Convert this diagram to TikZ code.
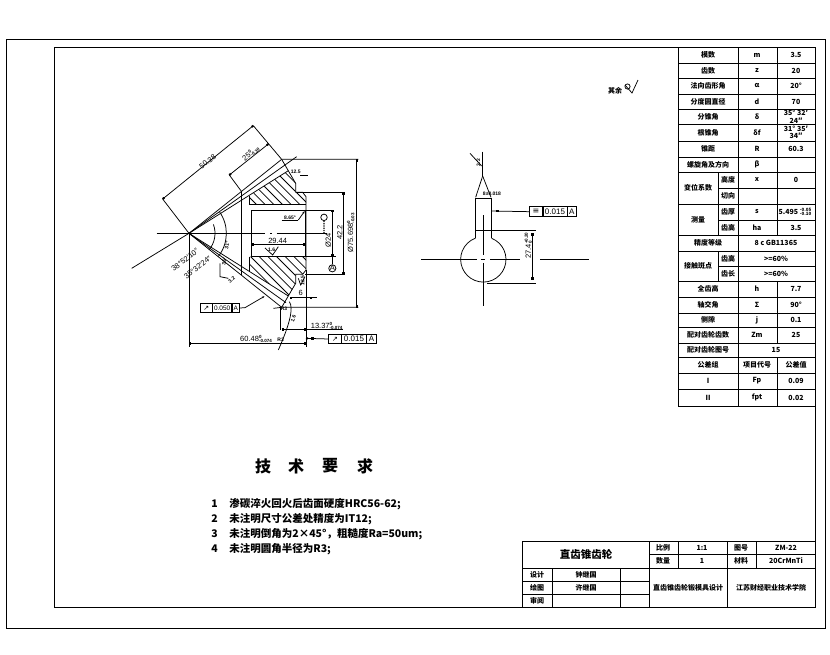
\documentclass[tikz,border=0pt]{standalone}
\usepackage{fontspec}
\setmainfont{Noto Sans CJK SC}
\newfontfamily\dimfont{Liberation Sans}
\newfontfamily\symfont{DejaVu Sans}
\usetikzlibrary{arrows.meta,positioning}
\newcommand{\tolstack}[2]{\leavevmode\rlap{\raisebox{3pt}{\bfseries\fontsize{4.5}{5}\selectfont #1}}\raisebox{-1.2pt}{\bfseries\fontsize{4.5}{5}\selectfont #2}}
\tikzset{
  cell/.style={font=\bfseries\fontsize{7}{7.5}\selectfont, inner sep=0pt, align=center},
  dimtext/.style={font=\dimfont\fontsize{7.5}{8}\selectfont, inner sep=0pt},
  angletext/.style={font=\dimfont\fontsize{7.5}{8}\selectfont, inner sep=0pt},
  tinytext/.style={font=\dimfont\bfseries\fontsize{5}{5}\selectfont, inner sep=0pt},
  dimline/.style={{Square[length=2pt,width=2pt]}-{Square[length=2pt,width=2pt]}},
  tolcell/.style={draw, inner sep=0pt, minimum height=9.6pt, font=\dimfont\fontsize{8}{8}\selectfont},
  reqtext/.style={font=\bfseries\fontsize{10.5}{11}\selectfont, inner sep=0pt, anchor=west},
  reqhead/.style={font=\bfseries\fontsize{16}{17}\selectfont, inner sep=0pt},
  centerline/.style={line width=0.7pt}
}
\begin{document}
\begin{tikzpicture}[x=1pt, y=-1pt, line width=0.75pt]
  \useasboundingbox (0,0) rectangle (830,654);
  \fill[white] (0,0) rectangle (830,654);
  % frames
  \draw (6,39) rectangle (825,628);
  \draw (54,47) rectangle (815,607);

  % parameter table
  \foreach \y in {47,63,78,94,109,124,141,157,172,204,235,251,281,297,313,327,343,357,373,389,406}
     \draw (678,\y) -- (815,\y);
  \foreach \y in {188,220,266}
     \draw (718,\y) -- (815,\y);
  \draw (678,47) -- (678,406);
  \draw (738,47) -- (738,406);
  \draw (718,172) -- (718,235);
  \draw (718,251) -- (718,281);
  \draw (777,47) -- (777,235);
  \draw (777,281) -- (777,343);
  \draw (777,357) -- (777,406);
  \foreach \y/\a/\b/\c [count=\i] in {
     55/模数/m/3.5, 70.5/齿数/z/20, 86/法向齿形角/α/20°, 101.5/分度圆直径/d/70,
     116.5/分锥角/δ/{35° 32′\\24″}, 132.5/根锥角/δf/{31° 35′\\34″}, 149/锥距/R/60.3,
     164.5/螺旋角及方向/β/{},
     289/全齿高/h/7.7, 305/轴交角/Σ/90°, 320/侧隙/j/0.1, 335/配对齿轮齿数/Zm/25,
     365/公差组/{}/公差值, 381/I/Fp/0.09, 397.5/II/fpt/0.02}
     {\node[cell] (lab\i) at (708,\y) {\a};
      \node[cell] (sym\i) at (757,\y) {\b};
      \node[cell] (val\i) at (796,\y) {\c};}
  \node[cell] (symcode) at (757,365) {项目代号};
  \node[cell] (labshift) at (698,188) {变位系数};
  \node[cell] (labheight) at (728,180) {高度};
  \node[cell] (symx) at (757,180) {x};
  \node[cell] (valx) at (796,180) {0};
  \node[cell] (labtan) at (728,196) {切向};
  \node[cell] (labmeas) at (698,220) {测量};
  \node[cell] (labthick) at (728,212) {齿厚};
  \node[cell] (symthick) at (757,212) {s};
  \node[cell] (valthick) at (795,212) {5.495 \tolstack{-0.05}{-0.10}};
  \node[cell] (labtooth) at (728,228) {齿高};
  \node[cell] (symtooth) at (757,228) {ha};
  \node[cell] (valtooth) at (796,228) {3.5};
  \node[cell] (labgrade) at (708,243) {精度等级};
  \node[cell] (valgrade) at (776,243) {8 c GB11365};
  \node[cell] (labspot) at (698,266) {接触斑点};
  \node[cell] (labspoth) at (728,258.5) {齿高};
  \node[cell] (valspoth) at (776,258.5) {>=60\%};
  \node[cell] (labspotl) at (728,273.5) {齿长};
  \node[cell] (valspotl) at (776,273.5) {>=60\%};
  \node[cell] (labmate) at (708,350) {配对齿轮图号};
  \node[cell] (valmate) at (776,350) {15};

  % title block
  \draw (522,541) -- (815,541);
  \draw (649,554) -- (815,554);
  \draw (522,568) -- (815,568);
  \draw (522,581) -- (649,581);
  \draw (522,594) -- (649,594);
  \draw (522,541) -- (522,607);
  \draw (552,568) -- (552,607);
  \draw (620,568) -- (620,607);
  \draw (649,541) -- (649,607);
  \draw (678,541) -- (678,568);
  \draw (727,541) -- (727,607);
  \draw (756,541) -- (756,568);
  \node[cell,font=\bfseries\fontsize{10.5}{11}\selectfont] (partname) at (586,554) {直齿锥齿轮};
  \node[cell] (tscale) at (663,547.5) {比例};
  \node[cell] (tscaleval) at (702,547.5) {1:1};
  \node[cell] (tdraw) at (741,547.5) {图号};
  \node[cell] (tdrawval) at (786,547.5) {ZM-22};
  \node[cell] (tcount) at (663,561) {数量};
  \node[cell] (tcountval) at (702,561) {1};
  \node[cell] (tmat) at (741,561) {材料};
  \node[cell] (tmatval) at (786,561) {20CrMnTi};
  \node[cell] (tdesign) at (537,574.5) {设计};
  \node[cell] (tdesignval) at (586,574.5) {钟继国};
  \node[cell] (tplot) at (537,587.5) {绘图};
  \node[cell] (tplotval) at (586,587.5) {许继国};
  \node[cell] (taudit) at (537,600.5) {审阅};
  \node[cell] (tproject) at (688,587.5) {直齿锥齿轮锻模具设计};
  \node[cell] (tschool) at (771,587.5) {江苏财经职业技术学院};

  % technical requirements
  \node[reqhead] (req1) at (263,466) {技};
  \node[reqhead] (req2) at (296,466) {术};
  \node[reqhead] (req3) at (330,466) {要};
  \node[reqhead] (req4) at (365,466) {求};
  \foreach \y/\n/\t [count=\i] in {
     504/1/渗碳淬火回火后齿面硬度HRC56-62;,
     519/2/未注明尺寸公差处精度为IT12;,
     534/3/{未注明倒角为2×45°，粗糙度Ra=50um;},
     549/4/未注明圆角半径为R3;}
     {\node[reqtext] (reqnum\i) at (211,\y) {\n};
      \node[reqtext] (reqline\i) at (229,\y) {\t};}

  % finish mark top right
  \node[cell] (restmark) at (615,90.5) {其余};
  \draw (625,85) -- (632,93) -- (638,80);
  \draw (627.5,86.5) circle (2.6);

  % gear section, coordinates in 1/3 pixels
  \begin{scope}[shift={(130,120)}, scale=1/3]
    \coordinate (apex) at (177,340);
    \coordinate (tipa) at (455,118);
    \coordinate (tipb) at (455,562);
    \coordinate (roota) at (475,152);
    \coordinate (rootb) at (475,528);
    % hatching
    \begin{scope}
      \clip (358,228) -- (roota) -- (497,190) -- (497,217) -- (518,217) -- (528,230) -- (528,253) -- (358,253) -- cycle;
      \foreach \s in {100,126,...,320}
         \draw (\s,0) -- ++(300,300);
    \end{scope}
    \begin{scope}
      \clip (358,410) -- (528,410) -- (528,450) -- (518,463) -- (497,463) -- (497,490) -- (rootb) -- (358,452) -- cycle;
      \foreach \s in {200,226,...,430}
         \draw (\s,300) -- ++(300,300);
    \end{scope}
    % outline
    \draw (tipa) -- (497,190) -- (497,217) -- (518,217) -- (528,230) -- (528,450) -- (518,463) -- (497,463) -- (497,490) -- (tipb);
    \draw (apex) -- (tipa);
    \draw (apex) -- (tipb);
    \draw (5,445) -- (apex) -- (roota);
    \draw (apex) -- (rootb);
    \draw (apex) -- (500,110);
    \draw (apex) -- (468,548);
    \draw (335,215) -- (335,465);
    \draw (358,228) -- (358,253);
    \draw (358,410) -- (358,452);
    \draw (358,253) -- (528,253);
    \draw (365,270) rectangle (525,408);
    \draw[centerline] (80,340) -- (405,340);
    \draw[centerline] (420,340) -- (425,340);
    \draw[centerline] (440,340) -- (590,340);
    % dimensions
    \draw (98,237) -- (apex);
    \draw (370,17) -- (tipa);
    \draw[dimline] (98,237) -- (370,17);
    \node[dimtext, rotate=39] (dimcone) at (233,125) {50.38};
    \draw (298,165) -- (335,215);
    \draw[dimline] (298,165) -- (415,72);
    \node[dimtext, rotate=39] (dimfacewidth) at (362,100) {25\tolstack{0}{-0.30}};
    \draw (tipa) -- (685,118);
    \draw (tipb) -- (430,565);
    \draw (tipb) -- (685,562);
    \draw[dimline] (680,118) -- (680,562);
    \node[dimtext, rotate=90] (dimoutd) at (662,338) {Ø75.698\tolstack{0}{-0.03}};
    \draw (497,217) -- (645,217);
    \draw (525,463) -- (645,463);
    \draw[dimline] (640,217) -- (640,463);
    \node[dimtext, rotate=90] (dimhub) at (629,338) {42.2};
    \draw (525,270) -- (612,270);
    \draw (525,408) -- (612,408);
    \draw[dimline] (607,270) -- (607,408);
    \node[dimtext, rotate=90] (dimbore) at (595,362) {Ø24};
    \draw (607,408) -- (607,432);
    \draw[line width=1pt] (597,410) -- (617,410);
    \node[draw, circle, inner sep=0.5pt, dimtext] (datuma) at (607,445) {A};
    \node[draw, circle, minimum size=6.5pt, inner sep=0pt] (finishmark) at (582,292) {};
    \draw[line width=1.2pt, densely dotted] (finishmark) -- (582,340);
    \draw[dimline] (365,373) -- (525,373);
    \node[dimtext] (dimlen) at (443,362) {29.44};
    \node[tinytext] (chamfertext) at (480,293) {8.65°};
    \draw (455,300) -- (505,300);
    \draw[-{Latex[length=3pt,width=2pt]}] (505,300) -- (525,272);
    \draw (405,384) -- (428,405) -- (445,380);
    \node[tinytext] (finishbore) at (425,390) {1.6};
    \draw (510,165) -- (535,165);
    \node[tinytext] (finishback) at (497,155) {12.5};
    \draw (505,475) -- (512,495) -- (525,470);
    \node[tinytext, rotate=90] (finishhub) at (518,482) {12.5};
    \draw[dimline] (480,533) -- (545,533);
    \draw (545,533) -- (560,533);
    \node[dimtext] (dimsix) at (512,520) {6};
    \draw (528,450) -- (528,680);
    \draw (177,340) -- (177,680);
    \draw[dimline] (177,670) -- (528,670);
    \node[dimtext] (dimmount) at (378,656) {60.48\tolstack{0}{-0.074}};
    \draw (450,562) -- (450,630);
    \draw[dimline] (455,628) -- (528,628);
    \draw (528,628) -- (640,628);
    \node[dimtext] (dimtip) at (590,617) {13.37\tolstack{0}{-0.074}};
    \draw (478,545) .. controls (492,565) and (478,615) .. (445,690);
    \node[tinytext, rotate=70] (finishteeth) at (490,597) {1.6};
    \node[tinytext] (chamferb) at (462,567) {R3};
    \node[tinytext] (chamferc) at (452,658) {R3};
    % angles
    \draw (apex) ++(-35:112) arc (-35:38:112);
    \draw (apex) ++(-20:78) arc (-20:40:78);
    \node[angletext, rotate=38] (angtip) at (165,420) {38°52′10″};
    \node[angletext, rotate=38] (angpitch) at (203,442) {35°32′24″};
    \node[tinytext, rotate=80] (angroota) at (291,375) {31°};
    \node[tinytext, rotate=80] (angrootb) at (283,425) {35′};
    \draw (270,430) -- (270,470) -- (295,475);
    \node[tinytext, rotate=40] (finishfront) at (305,480) {3.2};
    % tolerance frames
    \node[tolcell, minimum width=12.3pt, font=\symfont\fontsize{7}{7}\selectfont] (runouta) at (615,657) {↗};
    \node[tolcell, minimum width=25pt, right=-0.4pt of runouta] (runoutb) {0.015};
    \node[tolcell, minimum width=9.3pt, right=-0.4pt of runoutb] (runoutc) {A};
    \coordinate (runoutend) at (528,655);
    \draw[-{Square[length=2pt,width=2pt]}] (runouta.west) -- (runoutend);
    \fill (548,655) +(-5,-4) rectangle +(5,4);
    \node[tolcell, minimum width=11.6pt, font=\symfont\fontsize{7}{7}\selectfont] (conea) at (229,564) {↗};
    \node[tolcell, minimum width=19.3pt, right=-0.4pt of conea, font=\dimfont\fontsize{6.5}{7}\selectfont] (coneb) {0.050};
    \node[tolcell, minimum width=7.5pt, right=-0.4pt of coneb, font=\dimfont\fontsize{6.5}{7}\selectfont] (conec) {A};
    \coordinate (conebend) at (345,563);
    \coordinate (coneend) at (405,528);
    \draw[-{Latex[length=3pt,width=2pt]}] (conec.east) -- (conebend) -- (coneend);
  \end{scope}

  % key slot view, coordinates in 1/3 pixels
  \begin{scope}[shift={(410,140)}, scale=1/3]
    \draw (218,35) -- (218,108);
    \draw (180,40) -- (215,78);
    \node[tinytext, rotate=90] (finishslot) at (205,68) {3.2};
    \draw (218,108) -- (197,172);
    \draw (218,108) -- (243,172);
    \draw (197,175) rectangle (245,270);
    \draw (197,270) -- (197,295);
    \draw (245,270) -- (245,295);
    \draw (245,295) arc (-68.4:249.7:68);
    \draw (220,225) -- (220,345);
    \draw (220,370) -- (220,498);
    \draw (33,358) -- (200,358);
    \draw (212,358) -- (225,358);
    \draw (240,358) -- (330,358);
    \draw (390,358) -- (537,358);
    \draw (197,270) -- (378,270);
    \draw (232,430) -- (378,430);
    \draw[dimline] (367,280) -- (367,418);
    \node[dimtext, rotate=90] (dimslot) at (355,330) {27.4\tolstack{+0.20}{0}};
    \node[tinytext] (dimwidth) at (246,160) {8±0.018};
    \node[tolcell, minimum width=13.3pt, font=\symfont\fontsize{8}{8}\selectfont] (syma) at (378,215) {≡};
    \node[tolcell, minimum width=24pt, right=-0.4pt of syma] (symb) {0.015};
    \node[tolcell, minimum width=9pt, right=-0.4pt of symb] (symc) {A};
    \coordinate (symend) at (245,213);
    \draw (syma.west) -- (symend);
    \fill (262,213) +(-5,-4) rectangle +(5,4);
  \end{scope}
\end{tikzpicture}
\end{document}
